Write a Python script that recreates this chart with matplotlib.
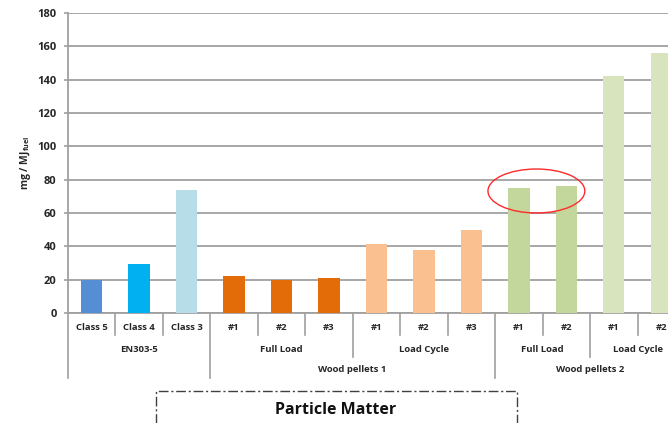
import matplotlib
matplotlib.use("Agg")
import matplotlib.pyplot as plt
from matplotlib.patches import Ellipse, Rectangle
import matplotlib.transforms as mtrans

# ---- data ----
categories = ["Class 5", "Class 4", "Class 3",
              "#1", "#2", "#3", "#1", "#2", "#3",
              "#1", "#2", "#1", "#2"]
values = [20, 29.5, 74, 22.5, 20, 21, 41.5, 38, 50, 75, 76, 142, 156]
colors = ["#558ED5", "#00B0F0", "#B7DEE8",
          "#E36C09", "#E36C09", "#E36C09",
          "#FAC090", "#FAC090", "#FAC090",
          "#C3D69B", "#C3D69B", "#D7E4BD", "#D7E4BD"]
level2 = [("EN303-5", 3), ("Full Load", 3), ("Load Cycle", 3), ("Full Load", 2), ("Load Cycle", 2)]
level3 = [("", 3), ("Wood pellets 1", 6), ("Wood pellets 2", 4)]
yticks = list(range(0, 181, 20))
ylabel = r"mg / MJ$_{\mathbf{fuel}}$"
title = "Particle Matter"
highlight = (9, 10)  # indices of circled bars

FONT = ["Open Sans", "DejaVu Sans"]
GRAY = "#A0A0A0"
TXT = "#262626"
plt.rcParams["mathtext.fontset"] = "custom"
plt.rcParams["mathtext.rm"] = "Open Sans"
plt.rcParams["mathtext.bf"] = "Open Sans:bold"

W, H = 668, 423
fig = plt.figure(figsize=(W / 100, H / 100), dpi=100)
ax_left, ax_right, ax_top, ax_bottom = 67.75, 685, 13, 313
ax = fig.add_axes([ax_left / W, 1 - ax_bottom / H, (ax_right - ax_left) / W, (ax_bottom - ax_top) / H])

x = list(range(len(categories)))
ax.bar(x, values, width=0.45, color=colors, zorder=3)
ax.set_xlim(-0.5, len(categories) - 0.5)
ax.set_ylim(0, 180)
ax.set_yticks(yticks)
ax.set_yticklabels([str(t) for t in yticks], fontsize=8, fontweight="bold", color=TXT, family=FONT)
ax.yaxis.grid(True, color=GRAY, lw=1.3, zorder=0)
ax.set_axisbelow(True)
ax.tick_params(axis="y", length=3, width=1.2, color=GRAY, pad=5)
ax.tick_params(axis="x", length=0, labelbottom=False)
for s in ["top", "right"]:
    ax.spines[s].set_visible(False)
ax.spines["left"].set_color(GRAY)
ax.spines["left"].set_linewidth(1.3)
ax.spines["bottom"].set_color(GRAY)
ax.spines["bottom"].set_linewidth(1.3)
ax.set_ylabel(ylabel, fontsize=7.5, fontweight="bold", color=TXT, family=FONT, labelpad=3)

# ---- multi-level x axis ----
trans = mtrans.blended_transform_factory(ax.transData, ax.transAxes)
hpx = ax_bottom - ax_top
def ypos(py):
    return (ax_bottom - py) / hpx

LFS = 6.8
for i, c in enumerate(categories):
    ax.text(i, ypos(328), c, transform=trans, ha="center", va="center",
            fontsize=LFS, fontweight="bold", color=TXT, family=FONT)

b2 = set()
start = 0
for name, n in level2:
    ax.text(start + (n - 1) / 2, ypos(349), name, transform=trans, ha="center", va="center",
            fontsize=LFS, fontweight="bold", color=TXT, family=FONT)
    b2.add(start); b2.add(start + n)
    start += n
b3 = set()
start = 0
for name, n in level3:
    if name:
        ax.text(start + (n - 1) / 2, ypos(370), name, transform=trans, ha="center", va="center",
                fontsize=LFS, fontweight="bold", color=TXT, family=FONT)
    b3.add(start); b3.add(start + n)
    start += n

for k in range(len(categories) + 1):
    if k in b3:
        yb = 378
    elif k in b2:
        yb = 357
    else:
        yb = 335
    ax.plot([k - 0.5, k - 0.5], [0, ypos(yb)], transform=trans, color=GRAY, lw=1.2, clip_on=False)

# ---- highlight ellipse ----
cx = (highlight[0] + highlight[1]) / 2 - 0.13
cy = (values[highlight[0]] + values[highlight[1]]) / 2 - 2.3
ax.add_patch(Ellipse((cx, cy), 2.04, 26.4, fill=False, edgecolor="#FF2A2A", lw=1.0, zorder=4, clip_on=False))

# ---- title box ----
bx0, by0, bx1 = 155.5, 391.5, 516.5
fig.add_artist(Rectangle((bx0 / W, -0.05), (bx1 - bx0) / W, (1 - by0 / H) + 0.05,
                         transform=fig.transFigure, fill=False, edgecolor="#404040",
                         lw=1.0, linestyle=(0, (7, 2, 1.5, 2))))
fig.text(336 / W, 1 - 410 / H, title, ha="center", va="center", fontsize=11.5,
         fontweight="bold", color="#111111", family=FONT)

fig.savefig("out.png", dpi=100)
